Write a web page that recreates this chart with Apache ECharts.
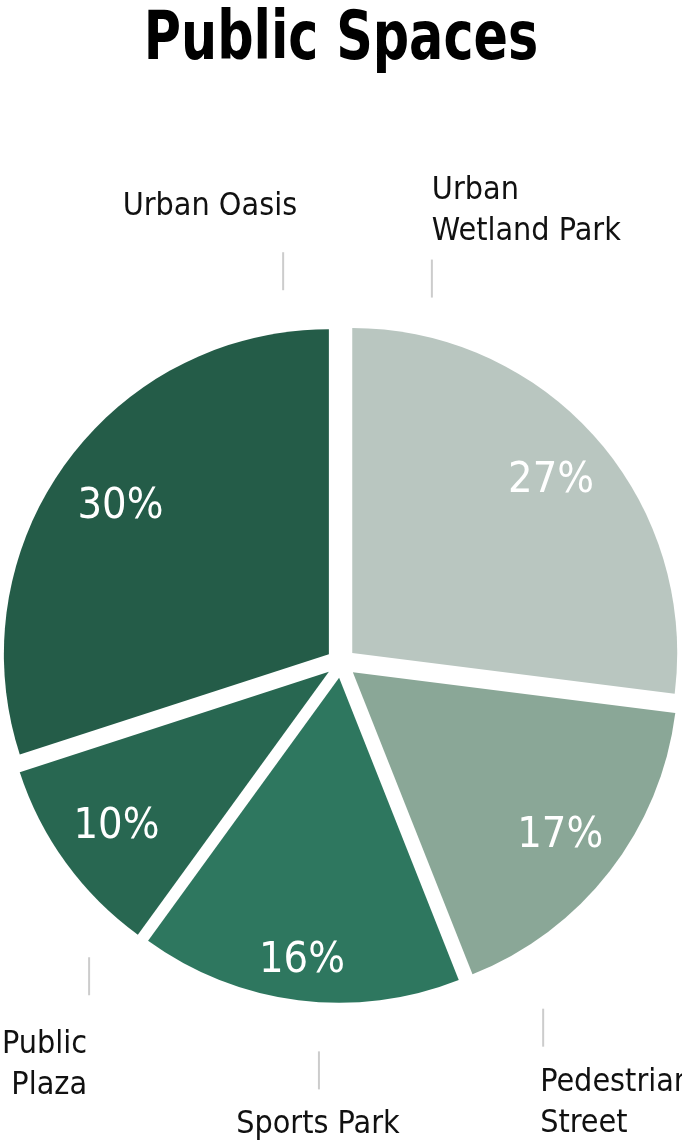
<!DOCTYPE html>
<html>
<head>
<meta charset="utf-8">
<script src="https://cdn.jsdelivr.net/npm/echarts@6/dist/echarts.min.js"></script>
<style>
  html, body { margin: 0; padding: 0; background: #ffffff; }
  #chart { width: 682px; height: 1148px; }
</style>
</head>
<body>
<div id="chart"></div>
<script>
// ---- data ----
const categories = ['Urban Wetland Park', 'Pedestrian Street', 'Sports Park', 'Public Plaza', 'Urban Oasis'];
const labelTexts = ['Urban\nWetland Park', 'Pedestrian\nStreet', 'Sports Park', 'Public\nPlaza', 'Urban Oasis'];
const shares = [27, 17, 16, 10, 30];
const sliceColors = ['#b9c6c0', '#8aa797', '#2e775f', '#286751', '#245c48'];
const titleText = 'Public Spaces';

// ---- layout (not data) ----
const FONT = "'DejaVu Sans Condensed', 'Liberation Sans Narrow', sans-serif";
const CENTER_PCT = [0.5, 0.5775];
const RADIUS = 325;
const EXPLODE = 15;
const LINE_LEN = 38;
// leader position (angle clockwise from 12 o'clock, distance from centre) and text offset from leader middle
const labelSpots = [
  { angle: 13.3,  r: 395, dx: 0,  dy: -67.5, align: 'left' },
  { angle: 151.0, r: 417, dx: -3, dy: 76,    align: 'left' },
  { angle: 183.1, r: 408, dx: -1, dy: 54.5,  align: 'center' },
  { angle: 218.8, r: 402, dx: -2, dy: 89,    align: 'right' },
  { angle: 351.6, r: 396, dx: 14, dy: -64.5, align: 'right' }
];
const pctNudge = [
  { dx: 0, dy: 3 },
  { dx: -2, dy: 1 },
  { dx: -4, dy: 20 },
  { dx: 2, dy: -1 },
  { dx: 6, dy: 8 }
];

const chart = echarts.init(document.getElementById('chart'), null, { renderer: 'canvas' });
const W = chart.getWidth();
const H = chart.getHeight();
const centerPct = [(CENTER_PCT[0] * 100) + '%', (CENTER_PCT[1] * 100) + '%'];

const sliceData = categories.map((name, i) => ({
  name: name,
  value: shares[i],
  selected: true,
  itemStyle: { color: sliceColors[i] },
  select: { itemStyle: { color: sliceColors[i], borderWidth: 0 } }
}));

const nameData = categories.map((name, i) => ({
  name: name,
  value: shares[i],
  label: { formatter: labelTexts[i] }
}));

const pctData = categories.map((name, i) => ({
  name: name,
  value: shares[i],
  label: { formatter: shares[i] + '%' }
}));

const option = {
  backgroundColor: '#ffffff',
  animation: false,
  graphic: [
    {
      type: 'text',
      x: W / 2,
      y: 8,
      scaleX: 0.843,
      style: {
        text: titleText,
        x: 0,
        y: 0,
        align: 'center',
        verticalAlign: 'top',
        font: 'bold 67px ' + FONT,
        fill: '#000000'
      }
    }
  ],
  series: [
    {
      type: 'pie',
      center: centerPct,
      radius: [0, RADIUS],
      startAngle: 90,
      clockwise: true,
      selectedMode: 'multiple',
      selectedOffset: EXPLODE,
      emphasis: { disabled: true },
      itemStyle: { borderWidth: 0 },
      label: { show: false },
      labelLine: { show: false },
      data: sliceData
    },
    {
      type: 'pie',
      silent: true,
      center: centerPct,
      radius: [0, RADIUS],
      startAngle: 90,
      clockwise: true,
      avoidLabelOverlap: false,
      itemStyle: { color: 'rgba(0,0,0,0)' },
      emphasis: { disabled: true },
      label: {
        show: true,
        position: 'outside',
        fontFamily: FONT,
        fontSize: 32,
        lineHeight: 41,
        color: '#111111'
      },
      labelLine: {
        show: true,
        lineStyle: { color: '#cccccc', width: 2 }
      },
      labelLayout: function (params) {
        const spot = labelSpots[params.dataIndex];
        const cx = W * CENTER_PCT[0];
        const cy = H * CENTER_PCT[1];
        const a = spot.angle * Math.PI / 180;
        const lx = cx + spot.r * Math.sin(a);
        const ly = cy - spot.r * Math.cos(a);
        return {
          x: lx + spot.dx,
          y: ly + spot.dy,
          align: spot.align,
          verticalAlign: 'middle',
          labelLinePoints: [[lx, ly - LINE_LEN / 2], [lx, ly], [lx, ly + LINE_LEN / 2]]
        };
      },
      data: nameData
    },
    {
      type: 'pie',
      silent: true,
      center: centerPct,
      radius: [229, RADIUS],
      startAngle: 90,
      clockwise: true,
      itemStyle: { color: 'rgba(0,0,0,0)' },
      emphasis: { disabled: true },
      label: {
        show: true,
        position: 'inside',
        fontFamily: FONT,
        fontSize: 43,
        color: '#ffffff'
      },
      labelLine: { show: false },
      labelLayout: function (params) {
        const n = pctNudge[params.dataIndex];
        return { dx: n.dx, dy: n.dy };
      },
      data: pctData
    }
  ]
};

chart.setOption(option);
</script>
</body>
</html>
